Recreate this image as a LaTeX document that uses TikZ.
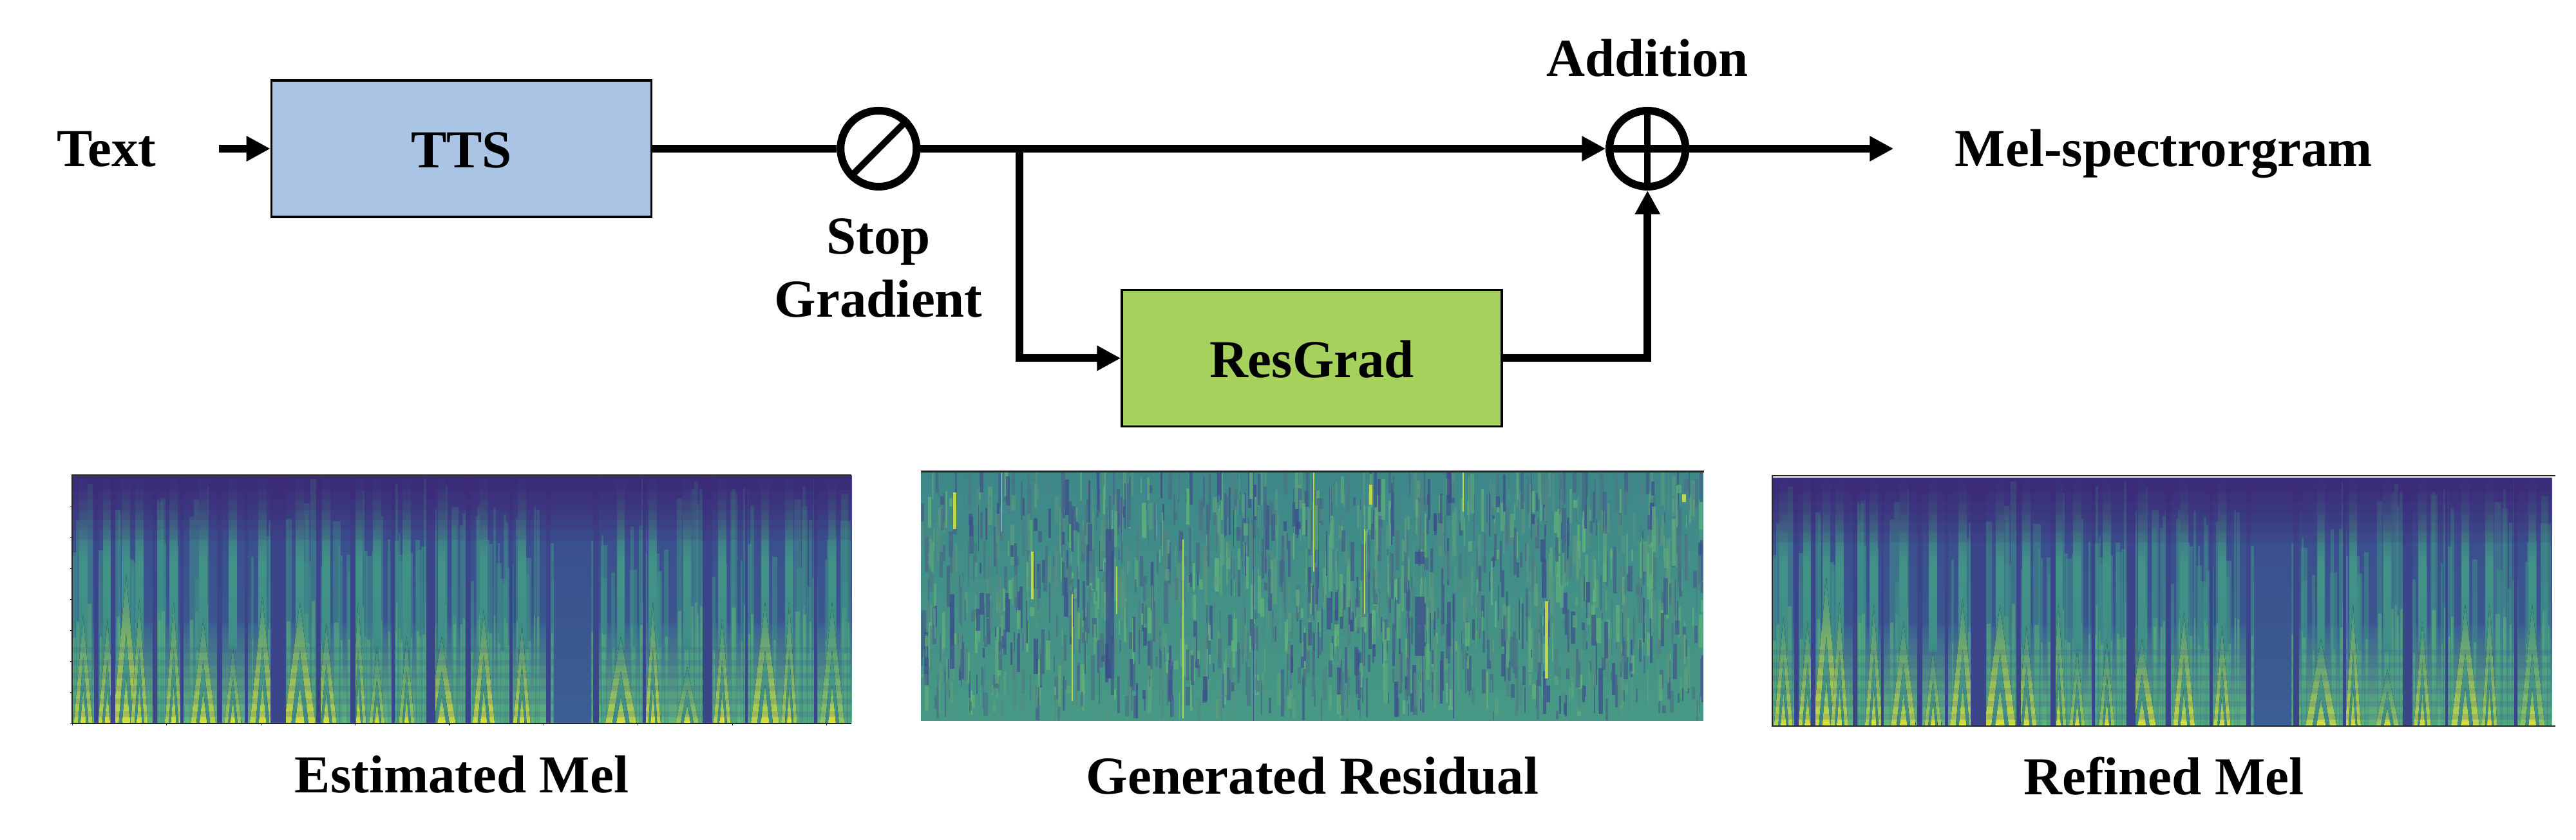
\documentclass[tikz,border=0pt]{standalone}
\usepackage{fontspec}
\setmainfont{Liberation Serif}
\usepackage{xcolor}
\usetikzlibrary{arrows.meta,positioning,calc}
\definecolor{ttsblue}{HTML}{A9C4E4}
\definecolor{resgreen}{HTML}{A5D15C}
\definecolor{vpurple}{HTML}{44146C}
\definecolor{vnavy}{HTML}{3A4A8C}
\definecolor{vblue}{HTML}{3B5F92}
\definecolor{vteal}{HTML}{3E8E88}
\definecolor{vgreen}{HTML}{62B87A}
\definecolor{vyellow}{HTML}{DCE03A}
% peaks: centre/half width/reach/yellow share
\newcommand{\melpeaks}{14/12/44/70,45/12/42/75,69/17/60/85,86/11/50/70,130/11/49/60,168/16/42/70,206/11/31/55,244/16/51/75,292/20/49/85,326/13/40/70,367/10/49/50,391/10/31/50,429/10/35/45,474/18/35/85,528/14/46/85,577/11/40/80,704/20/35/70,745/10/49/80,789/15/23/45,834/11/42/70,889/18/49/75,920/10/49/55,975/16/49/35}
\newcommand{\melgaps}{31/3,52/3,106/3,141/2,189/3,223/2,264/10,316/3,360/3,412/2,460/6,508/3,563/2,611/3,672/4,734/2,815/6,865/2,954/2}
\newcommand{\resstreaks}{103/100/76/.015,142/68/49/.04,193/51/8/.02,335/73/1/.025,502/100/60/.02,567/77/43/.02,693/100/84/.02,250/62/43/.025,800/48/17/.05,43/92/77/.05,575/95/87/.05,975/91/88/.06}
\newcommand{\resblots}{425/100/0/.015,681/51/1/.02,40/51/21/.07,241/77/17/.13,637/50/26/.15,637/68/63/.15,483/80/77/.07,794/73/64/.06}
\newcommand{\melpatch}[1]{%
  \begin{scope}[shift={(#1.south west)},x=.0121cm,y=.0385cm]
    \clip (0,0) rectangle (1000,100);
    \fill[bottom color=vblue,top color=vnavy] (0,0) rectangle (1000,100);
    \fill[top color=vblue,bottom color=vgreen] (0,0) rectangle (1000,40);
    % unvoiced streaks
    \pgfmathsetseed{512}
    \foreach \i in {1,...,170} {
      \pgfmathsetmacro{\sx}{rnd*1000}
      \pgfmathsetmacro{\sw}{1+rnd*4}
      \pgfmathsetmacro{\sh}{55+rnd*45}
      \fill[vteal,opacity=.55] (\sx-\sw,0) rectangle (\sx+\sw,\sh);
      \fill[vgreen,opacity=.45] (\sx-.6*\sw,0) rectangle (\sx+.6*\sw,.5*\sh);
    }
    \foreach \c/\w/\t/\b in \melpeaks {
      \fill[bottom color=vteal,top color=vnavy,middle color=vteal!90!vgreen] (\c-5,30) rectangle (\c+5,100);
      \fill[bottom color=vyellow!\b!vgreen,top color=vteal] (\c-\w,0) -- (\c,\t) -- (\c+\w,0) -- cycle;
      \fill[bottom color=vteal,top color=vteal!60!vgreen] (\c-.55*\w,0) -- (\c,.6*\t) -- (\c+.55*\w,0) -- cycle;
      \fill[bottom color=vyellow,top color=vgreen] (\c-.3*\w,0) -- (\c,.32*\t) -- (\c+.3*\w,0) -- cycle;
    }
    \foreach \y in {2.5,7.7,...,32} {
      \fill[vblue,opacity=.22] (0,\y) rectangle (1000,\y+2.4);
    }
    \foreach \c/\w in \melgaps {
      \fill[vnavy!90!vpurple] (\c-\w,0) rectangle (\c+\w,100);
    }
    \fill[bottom color=vblue,top color=vnavy] (618,0) rectangle (666,100);
    \foreach \y in {74,78,...,96} {
      \fill[vpurple,opacity=.11] (0,\y) rectangle (1000,100);
    }
  \end{scope}
}
\newcommand{\respatch}[1]{%
  \begin{scope}[shift={(#1.south west)},x=.01214cm,y=.0386cm]
    \clip (0,0) rectangle (1000,100);
    \fill[bottom color=vteal!75!vgreen,top color=vteal!85!vblue] (0,0) rectangle (1000,100);
    \pgfmathsetseed{1305}
    \foreach \i in {1,...,1800} {
      \pgfmathsetmacro{\rx}{rnd*1000}
      \pgfmathsetmacro{\ry}{rnd*92}
      \pgfmathsetmacro{\rl}{3+rnd*16}
      \pgfmathsetmacro{\rc}{int(rnd*100)}
      \pgfmathsetmacro{\rw}{.01+rnd*.06}
      \draw[vnavy!\rc!vgreen,line width=\rw cm,opacity=.75] (\rx,\ry) -- (\rx,\ry+\rl);
    }
    \foreach \x/\a/\b/\w in \resblots {
      \draw[vnavy,line width=\w cm,opacity=.7] (\x,\a) -- (\x,\b);
    }
    \foreach \x/\a/\b/\w in \resstreaks {
      \draw[vyellow!75!vgreen,line width=\w cm] (\x,\a) -- (\x,\b);
    }
  \end{scope}
}
\begin{document}
\begin{tikzpicture}[
  font=\fontsize{23.6}{27.9}\selectfont\bfseries,
  block/.style={rectangle,draw=black,line width=1pt,minimum width=5.9cm,minimum height=2.12cm,text height=.6cm,text depth=0cm},
  opnode/.style={circle,draw=black,line width=.12cm,minimum size=1.18cm,inner sep=0pt},
  lbl/.style={inner sep=0pt,text height=.56cm,text depth=0cm},
  capt/.style={inner sep=0pt,align=center},
  patch/.style={rectangle,inner sep=0pt},
  wire/.style={line width=.12cm},
  arr/.style={wire,-{Triangle[length=.37cm,width=.37cm]}}
]
\useasboundingbox (0,0) rectangle (40,13.05);
\node[block,fill=ttsblue] (tts) at (7.165,10.74) {TTS};
\node[opnode,right=2.86cm of tts] (stop) {};
\node[opnode,right=10.64cm of stop] (add) {};
\node[block,fill=resgreen,below right=1.1cm and 7.27cm of tts] (res) {ResGrad};
\node[lbl,left=1.77cm of tts] (txt) {Text};
\node[lbl,right=4.12cm of add] (mel) {Mel-spectrorgram};
\node[capt,below=.43cm of stop] (stoplbl) {Stop\\Gradient};
\node[capt,above=.46cm of add] (addlbl) {Addition};
\coordinate (fork) at ($(tts.east)+(5.7,0)$);
% signal path
\draw[arr,shorten <=.97cm] (txt) -- (tts);
\draw[wire] (tts) -- (stop);
\draw[arr] (stop) -- (add);
\draw[arr,shorten >=.95cm] (add) -- (mel);
\draw[arr] (fork) |- (res);
\draw[arr] (res) -| (add);
\draw[line width=.1cm] (stop.45) -- (stop.225);
\draw[line width=.1cm] (add.north) -- (add.south);
\draw[wire] (add.west) -- (add.east);
% spectrograms
\node[patch,minimum width=12.08cm,minimum height=3.84cm] (estmel) at (7.17,3.74) {};
\node[patch,minimum width=12.14cm,minimum height=3.86cm] (residual) at (20.38,3.79) {};
\node[patch,minimum width=12.14cm,minimum height=3.87cm] (refmel) at (33.6,3.715) {};
\melpatch{estmel}
\respatch{residual}
\melpatch{refmel}
\draw[black!85,line width=.02cm] (estmel.north east) -- (estmel.north west) -- (estmel.south west) -- (estmel.south east);
\draw[black!85,line width=.02cm] (refmel.north east) -- (refmel.north west) -- (refmel.south west) -- (refmel.south east);
\draw[black!85,line width=.03cm] (residual.north west) -- (residual.north east);
\foreach \i in {0,...,8} {
  \draw[black!85,line width=.012cm] ($(estmel.south west)+(\i*1.464,0)$) -- ++(0,-.03);
}
\foreach \i in {0,...,7} {
  \draw[black!85,line width=.012cm] ($(estmel.south west)+(0,\i*.48)$) -- ++(-.03,0);
}
\node[capt,below=.5cm of estmel] (estlbl) {Estimated Mel};
\node[capt,below=.56cm of residual] (reslbl) {Generated Residual};
\node[capt,below=.48cm of refmel] (reflbl) {Refined Mel};
\end{tikzpicture}
\end{document}
